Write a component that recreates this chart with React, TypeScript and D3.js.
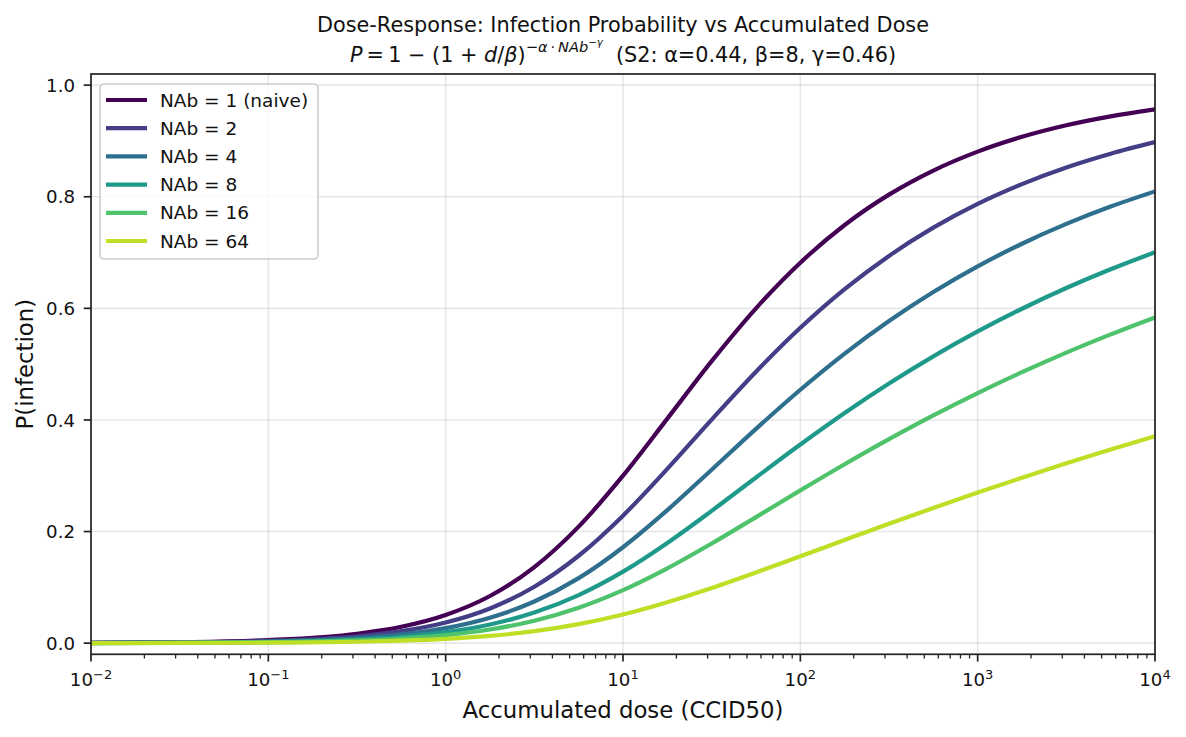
import React from "react";
import * as d3 from "d3";

const doses = [0.01, 0.03162, 0.1, 0.3162, 0.5623, 1, 1.778, 3.162, 5.623, 10, 17.78, 31.62, 56.23, 100, 177.8, 316.2, 562.3, 1000, 1778, 3162, 5623, 10000];
const nab1 = [0.0005, 0.0017, 0.0055, 0.0169, 0.0294, 0.0505, 0.0845, 0.1363, 0.2088, 0.3001, 0.4024, 0.5054, 0.6001, 0.6818, 0.7494, 0.8038, 0.847, 0.8809, 0.9074, 0.9281, 0.9441, 0.9566];
const nab2 = [0.0004, 0.0013, 0.004, 0.0123, 0.0215, 0.037, 0.0622, 0.1011, 0.1566, 0.2285, 0.3123, 0.4006, 0.4864, 0.5651, 0.6344, 0.694, 0.7446, 0.7872, 0.8227, 0.8525, 0.8772, 0.8979];
const nab4 = [0.0003, 0.0009, 0.0029, 0.009, 0.0157, 0.027, 0.0456, 0.0746, 0.1165, 0.1719, 0.2383, 0.3108, 0.384, 0.4541, 0.5189, 0.5773, 0.6293, 0.6753, 0.7158, 0.7513, 0.7824, 0.8096];
const nab8 = [0.0002, 0.0007, 0.0021, 0.0065, 0.0114, 0.0197, 0.0334, 0.0548, 0.0861, 0.1281, 0.1796, 0.2371, 0.2969, 0.356, 0.4125, 0.4653, 0.514, 0.5586, 0.5993, 0.6364, 0.67, 0.7006];
const nab16 = [0.0002, 0.0005, 0.0015, 0.0048, 0.0083, 0.0144, 0.0244, 0.0401, 0.0633, 0.0949, 0.134, 0.1785, 0.2259, 0.2737, 0.3206, 0.3655, 0.4081, 0.4481, 0.4856, 0.5206, 0.5533, 0.5838];
const nab64 = [0.0001, 0.0003, 0.0008, 0.0025, 0.0044, 0.0076, 0.013, 0.0214, 0.034, 0.0513, 0.0733, 0.0988, 0.1266, 0.1556, 0.1849, 0.2139, 0.2422, 0.2698, 0.2964, 0.3222, 0.347, 0.371];

const seriesLabels = ["NAb = 1 (naive)", "NAb = 2", "NAb = 4", "NAb = 8", "NAb = 16", "NAb = 64"];
const seriesValues = [nab1, nab2, nab4, nab8, nab16, nab64];
const colorStops = [0, 0.18, 0.36, 0.54, 0.72, 0.9];

const xTickExps = ["−2", "−1", "0", "1", "2", "3", "4"];
const xTickValues = [0.01, 0.1, 1, 10, 100, 1000, 10000];
const yTickValues = [0, 0.2, 0.4, 0.6, 0.8, 1.0];

const W = 1186, H = 737;
const L = 91, R = 1155, T = 74, B = 654.3;
const FONT = "'DejaVu Sans', sans-serif";
const TICK_FS = 18.2;
const TITLE_FS = 20.8;

export default function App() {
  const x = d3.scaleLog().domain([0.01, 10000]).range([L, R]);
  const y = d3.scaleLinear().domain([-0.02, 1.02]).range([B, T]);
  const line = d3
    .line<[number, number]>()
    .x((d) => x(d[0]))
    .y((d) => y(d[1]))
    .curve(d3.curveMonotoneX);

  const minorTicks: number[] = [];
  for (let e = -2; e < 4; e++) {
    for (let k = 2; k <= 9; k++) minorTicks.push(k * Math.pow(10, e));
  }

  const legendRowY = (i: number) => 100 + i * 28.2;

  return (
    <svg
      width={W}
      height={H}
      style={{ position: "absolute", left: 0, top: 0, background: "#fff" }}
      fontFamily={FONT}
    >
      <rect x={0} y={0} width={W} height={H} fill="#fff" />
      <defs>
        <clipPath id="plotclip">
          <rect x={L} y={T} width={R - L} height={B - T} />
        </clipPath>
      </defs>
      {/* grid */}
      {xTickValues.map((v, i) => (
        <line key={"gx" + i} x1={x(v)} x2={x(v)} y1={T} y2={B} stroke="#b0b0b0" strokeOpacity={0.3} strokeWidth={1.6} />
      ))}
      {yTickValues.map((v, i) => (
        <line key={"gy" + i} x1={L} x2={R} y1={y(v)} y2={y(v)} stroke="#b0b0b0" strokeOpacity={0.3} strokeWidth={1.6} />
      ))}
      {/* series */}
      <g clipPath="url(#plotclip)">
        {seriesValues.map((vals, i) => (
          <path
            key={"s" + i}
            d={line(doses.map((d, j) => [d, vals[j]] as [number, number])) || ""}
            fill="none"
            stroke={d3.interpolateViridis(colorStops[i])}
            strokeWidth={4.2}
            strokeLinejoin="round"
            strokeLinecap="butt"
          />
        ))}
      </g>
      {/* spines */}
      <rect x={L} y={T} width={R - L} height={B - T} fill="none" stroke="#222" strokeWidth={1.7} />
      {/* x ticks */}
      {xTickValues.map((v, i) => (
        <g key={"xt" + i}>
          <line x1={x(v)} x2={x(v)} y1={B} y2={B + 7.3} stroke="#222" strokeWidth={1.7} />
          <text x={x(v)} y={686} fontSize={TICK_FS} textAnchor="middle" fill="#111">
            <tspan>10</tspan>
            <tspan fontSize={13} dy={-7.5}>{xTickExps[i]}</tspan>
          </text>
        </g>
      ))}
      {minorTicks.map((v, i) => (
        <line key={"mt" + i} x1={x(v)} x2={x(v)} y1={B} y2={B + 4.2} stroke="#222" strokeWidth={1.3} />
      ))}
      {/* y ticks */}
      {yTickValues.map((v, i) => (
        <g key={"yt" + i}>
          <line x1={L - 7.3} x2={L} y1={y(v)} y2={y(v)} stroke="#222" strokeWidth={1.7} />
          <text x={L - 16} y={y(v)} dy="0.36em" fontSize={TICK_FS} textAnchor="end" fill="#111">
            {v.toFixed(1)}
          </text>
        </g>
      ))}
      {/* axis labels */}
      <text x={(L + R) / 2} y={718} fontSize={22.8} textAnchor="middle" fill="#111">
        Accumulated dose (CCID50)
      </text>
      <text
        transform={`translate(33, ${(T + B) / 2}) rotate(-90)`}
        fontSize={22.8}
        textAnchor="middle"
        fill="#111"
      >
        P(infection)
      </text>
      {/* title */}
      <text x={(L + R) / 2} y={31.5} fontSize={TITLE_FS} textAnchor="middle" fill="#111">
        Dose-Response: Infection Probability vs Accumulated Dose
      </text>
      <text x={(L + R) / 2} y={62.3} fontSize={TITLE_FS} textAnchor="middle" fill="#111" style={{ whiteSpace: "pre" }}>
        <tspan fontStyle="italic">P</tspan>
        <tspan>{"\u2009=\u20091 − (1 + "}</tspan>
        <tspan fontStyle="italic">d</tspan>
        <tspan>/</tspan>
        <tspan fontStyle="italic">β</tspan>
        <tspan>)</tspan>
        <tspan fontSize={14.6} dy={-10}>−</tspan>
        <tspan fontSize={14.6} fontStyle="italic">α</tspan>
        <tspan fontSize={14.6}>{"\u2009·\u2009"}</tspan>
        <tspan fontSize={14.6} fontStyle="italic">NAb</tspan>
        <tspan fontSize={10.2} dy={-6}>−</tspan>
        <tspan fontSize={10.2} fontStyle="italic">γ</tspan>
        <tspan fontSize={TITLE_FS} dy={16}>{"  (S2: α=0.44, β=8, γ=0.46)"}</tspan>
      </text>
      {/* legend */}
      <rect x={100} y={84} width={218} height={175} rx={4} fill="#fff" fillOpacity={0.8} stroke="#cccccc" strokeWidth={1.6} />
      {seriesLabels.map((lab, i) => (
        <g key={"lg" + i}>
          <line x1={106} x2={147} y1={legendRowY(i)} y2={legendRowY(i)} stroke={d3.interpolateViridis(colorStops[i])} strokeWidth={4.2} />
          <text x={160} y={legendRowY(i)} dy="0.36em" fontSize={18.5} fill="#111">
            {lab}
          </text>
        </g>
      ))}
    </svg>
  );
}
